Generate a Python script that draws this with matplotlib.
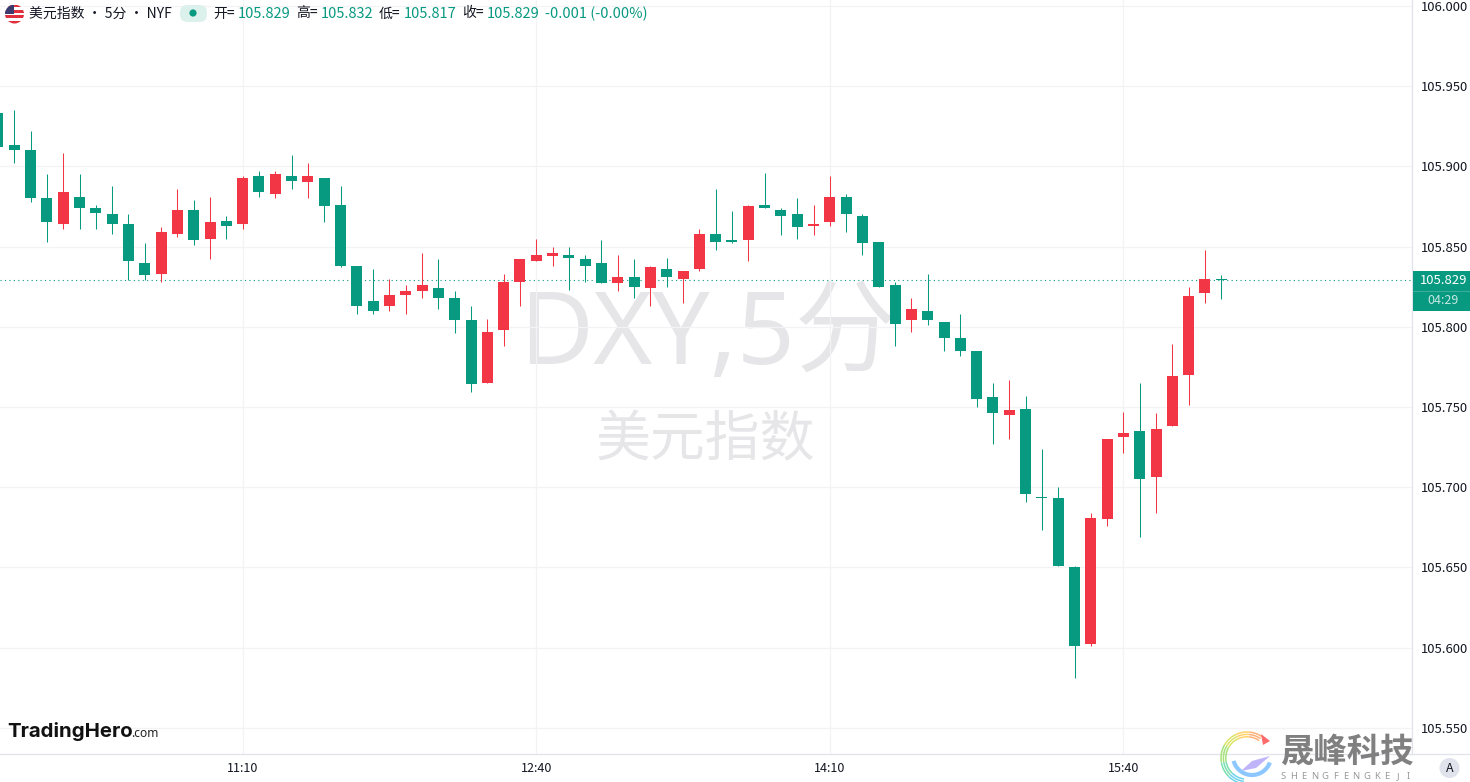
import numpy as np
import matplotlib
matplotlib.use('Agg')
import matplotlib.pyplot as plt
from matplotlib.patches import Circle, FancyBboxPatch, Rectangle, Arc, Polygon

plt.rcParams['font.family'] = ['Noto Sans CJK SC', 'DejaVu Sans']

# Данные свечей (5 минут), индекс 15 = 11:10
opens = [105.933, 105.913, 105.910, 105.880, 105.864, 105.881, 105.874, 105.870, 105.864, 105.840,
         105.833, 105.858, 105.873, 105.855, 105.866, 105.864, 105.894, 105.883, 105.894, 105.890,
         105.893, 105.876, 105.838, 105.816, 105.813, 105.820, 105.822, 105.824, 105.818, 105.804,
         105.765, 105.798, 105.828, 105.841, 105.844, 105.845, 105.842, 105.840, 105.827, 105.831,
         105.824, 105.836, 105.830, 105.836, 105.858, 105.854, 105.854, 105.876, 105.873, 105.870,
         105.863, 105.865, 105.881, 105.869, 105.853, 105.826, 105.804, 105.810, 105.803, 105.793,
         105.785, 105.756, 105.745, 105.749, 105.694, 105.693, 105.650, 105.602, 105.680, 105.731,
         105.735, 105.706, 105.738, 105.770, 105.821, 105.829]
highs = [105.933, 105.935, 105.922, 105.895, 105.908, 105.895, 105.876, 105.888, 105.870, 105.852,
         105.862, 105.886, 105.879, 105.881, 105.869, 105.894, 105.897, 105.897, 105.907, 105.902,
         105.893, 105.888, 105.838, 105.836, 105.830, 105.826, 105.846, 105.842, 105.822, 105.813,
         105.805, 105.833, 105.842, 105.855, 105.850, 105.850, 105.845, 105.854, 105.845, 105.842,
         105.838, 105.843, 105.835, 105.861, 105.886, 105.872, 105.876, 105.896, 105.874, 105.880,
         105.876, 105.894, 105.883, 105.870, 105.853, 105.828, 105.818, 105.833, 105.803, 105.808,
         105.785, 105.765, 105.767, 105.757, 105.724, 105.700, 105.651, 105.684, 105.730, 105.747,
         105.765, 105.746, 105.789, 105.825, 105.848, 105.832]
lows = [105.912, 105.902, 105.878, 105.853, 105.861, 105.861, 105.861, 105.858, 105.829, 105.829,
        105.828, 105.856, 105.851, 105.842, 105.855, 105.861, 105.881, 105.880, 105.886, 105.880,
        105.865, 105.837, 105.808, 105.808, 105.810, 105.808, 105.818, 105.811, 105.796, 105.759,
        105.765, 105.788, 105.813, 105.841, 105.838, 105.823, 105.828, 105.827, 105.822, 105.818,
        105.813, 105.825, 105.815, 105.835, 105.848, 105.852, 105.841, 105.874, 105.857, 105.855,
        105.857, 105.863, 105.859, 105.845, 105.825, 105.788, 105.797, 105.801, 105.785, 105.782,
        105.750, 105.727, 105.730, 105.691, 105.673, 105.651, 105.581, 105.601, 105.676, 105.721,
        105.669, 105.684, 105.738, 105.751, 105.815, 105.817]
closes = [105.912, 105.910, 105.880, 105.865, 105.884, 105.874, 105.871, 105.864, 105.841, 105.832,
          105.859, 105.873, 105.854, 105.865, 105.863, 105.893, 105.884, 105.895, 105.891, 105.894,
          105.875, 105.838, 105.813, 105.810, 105.820, 105.822, 105.826, 105.818, 105.804, 105.764,
          105.797, 105.828, 105.842, 105.845, 105.846, 105.843, 105.838, 105.827, 105.831, 105.825,
          105.837, 105.831, 105.835, 105.858, 105.853, 105.853, 105.875, 105.874, 105.869, 105.862,
          105.864, 105.881, 105.870, 105.852, 105.825, 105.802, 105.811, 105.804, 105.793, 105.785,
          105.755, 105.746, 105.748, 105.696, 105.693, 105.651, 105.601, 105.681, 105.730, 105.734,
          105.705, 105.736, 105.769, 105.819, 105.830, 105.829]

y_ticks = [105.55, 105.60, 105.65, 105.70, 105.75, 105.80, 105.85, 105.90, 105.95, 106.00]
time_index = [15, 33, 51, 69]
time_labels = ['11:10', '12:40', '14:10', '15:40']
last_price = 105.829
header_parts = [('开=', '105.829', 213), ('高=', '105.832', 296), ('低=', '105.817', 379), ('收=', '105.829', 462)]
header_change = '-0.001 (-0.00%)'

GREEN = '#089981'
RED = '#F23645'
GRID = '#F3F3F5'
LINE = '#E0E3EB'
TEXT = '#131722'
MARK = '#E6E6E8'

W, H = 1470, 782
fig = plt.figure(figsize=(W / 100, H / 100), dpi=100, facecolor='white')
ax = fig.add_axes([0, 1 - 754 / H, 1412.3 / W, 754 / H])

x = np.arange(len(opens))
o = np.array(opens)
c = np.array(closes)
colors = np.where(c <= o, GREEN, RED)

ax.vlines(x, lows, highs, colors=colors, linewidth=0.75, zorder=3)
ax.bar(x, np.maximum(np.abs(c - o), 0.0007), bottom=np.minimum(o, c), width=0.675, color=colors, linewidth=0, zorder=4)
ax.axhline(last_price, color=GREEN, linewidth=0.8, linestyle=(0, (1, 3)), zorder=2)

ax.set_xlim(0.123, 86.71)
ax.set_ylim(105.5336, 106.0037)
ax.set_axisbelow(True)
ax.grid(True, color=GRID, linewidth=0.9)
ax.set_xticks(time_index, time_labels)
ax.set_yticks(y_ticks, [f'{t:.3f}' for t in y_ticks])
ax.yaxis.tick_right()
ax.tick_params(axis='y', length=0, pad=6, labelsize=9.4, labelcolor=TEXT)
ax.tick_params(axis='x', length=0, pad=6, labelsize=9, labelcolor=TEXT)
for side in ['top', 'left']:
    ax.spines[side].set_visible(False)
for side in ['right', 'bottom']:
    ax.spines[side].set_color(LINE)
    ax.spines[side].set_linewidth(0.9)

# Слой в пикселях для надписей и логотипов
ov = fig.add_axes([0, 0, 1, 1], facecolor='none')
ov.set_xlim(0, W)
ov.set_ylim(H, 0)
ov.axis('off')

# Водяной знак
ax.text(0.3675, 0.553, 'DXY,5分', transform=ax.transAxes, fontsize=73, color=MARK, ha='left', va='center', zorder=0.2,
        family=['Noto Sans', 'Noto Sans CJK SC'])
ax.text(0.4992, 0.4155, '美元指数', transform=ax.transAxes, fontsize=39.5, color=MARK, ha='center', va='center', zorder=0.2)

# Заголовок
flag = Circle((14.5, 14), 9.5, transform=ov.transData, facecolor='none', linewidth=0)
ov.add_patch(flag)
for k in range(7):
    s = ov.add_patch(Rectangle((5, 4.5 + k * 19 / 7), 19, 19 / 7, facecolor='#E0303E' if k % 2 == 0 else 'white', linewidth=0))
    s.set_clip_path(flag)
s = ov.add_patch(Rectangle((5, 4.5), 9.5, 9, facecolor='#3C3B6E', linewidth=0))
s.set_clip_path(flag)
ov.text(29, 13.5, '美元指数 · 5分 · NYF', fontsize=10, color=TEXT, ha='left', va='center')
ov.add_patch(FancyBboxPatch((180, 5), 27, 17, boxstyle='round,pad=0,rounding_size=7.5', facecolor='#DCF1EC', linewidth=0))
ov.add_patch(Circle((193, 13), 3.6, facecolor=GREEN, linewidth=0))
for label, val, px in header_parts:
    ov.text(px, 13.5, label, fontsize=10, color=TEXT, ha='left', va='center')
    ov.text(px + 25, 13.5, val, fontsize=10.5, color=GREEN, ha='left', va='center')
ov.text(545, 13.5, header_change, fontsize=10.5, color=GREEN, ha='left', va='center')

# Метка цены справа
ov.add_patch(Rectangle((1413, 271), 57, 39.5, facecolor=GREEN, linewidth=0))
ov.plot([1413, 1470], [290.5, 290.5], color='#3BAE9A', linewidth=0.8)
ov.text(1443.5, 281, f'{last_price:.3f}', fontsize=9.4, color='white', ha='center', va='center')
ov.text(1443, 301, '04:29', fontsize=9, color='#C6E8E1', ha='center', va='center')

# Нижняя линия оси до правого края и кнопка A
ov.plot([1412, W], [754, 754], color=LINE, linewidth=0.9)
ov.add_patch(Circle((1449.5, 768), 10, facecolor=LINE, linewidth=0))
ov.text(1449.5, 768, 'A', fontsize=9, color=TEXT, ha='center', va='center')

# Логотип TradingHero
ov.text(7, 731.5, 'TradingHero', fontsize=14.7, fontweight='bold', color='#111111', ha='left', va='center', family=['Inter', 'DejaVu Sans'])
ov.text(131, 733.5, '.com', fontsize=8.6, color='#222222', ha='left', va='center', family=['Noto Sans', 'DejaVu Sans'])

# Логотип 晟峰科技: сектора кольца по экранным углам
ring_parts = [(55, 85, '#FFB27A'), (85, 115, '#FFD36A'), (115, 150, '#DDE46A'),
              (150, 190, '#A6E27A'), (190, 225, '#7ADFB0'), (225, 262, '#6FD3EE')]
for r in [26, 23.6, 21.2]:
    for s1, s2, col in ring_parts:
        ov.add_patch(Arc((1247, 758), 2 * r, 2 * r, theta1=360 - s2, theta2=360 - s1, color=col, linewidth=1.1))
ov.add_patch(Polygon([[1261, 734], [1270, 741], [1263, 745]], facecolor='#FF6B6B', linewidth=0))
ov.add_patch(Polygon([[1270, 756], [1256, 768], [1241, 771], [1252, 761]], facecolor='#BFB4FA', linewidth=0))
ov.add_patch(Arc((1252, 756), 38, 38, theta1=20, theta2=165, color='#8CC8FF', linewidth=3))
ov.text(1348, 752, '晟峰科技', fontsize=24, fontweight='bold', color='#808080', ha='center', va='center')
for px, ch in zip(np.linspace(1283, 1408, 13), 'SHENGFENGKEJI'):
    ov.text(px, 776.5, ch, fontsize=6.8, color='#9A9A9A', ha='center', va='center', family=['Noto Sans', 'DejaVu Sans'])

fig.savefig('out.png', dpi=100)
